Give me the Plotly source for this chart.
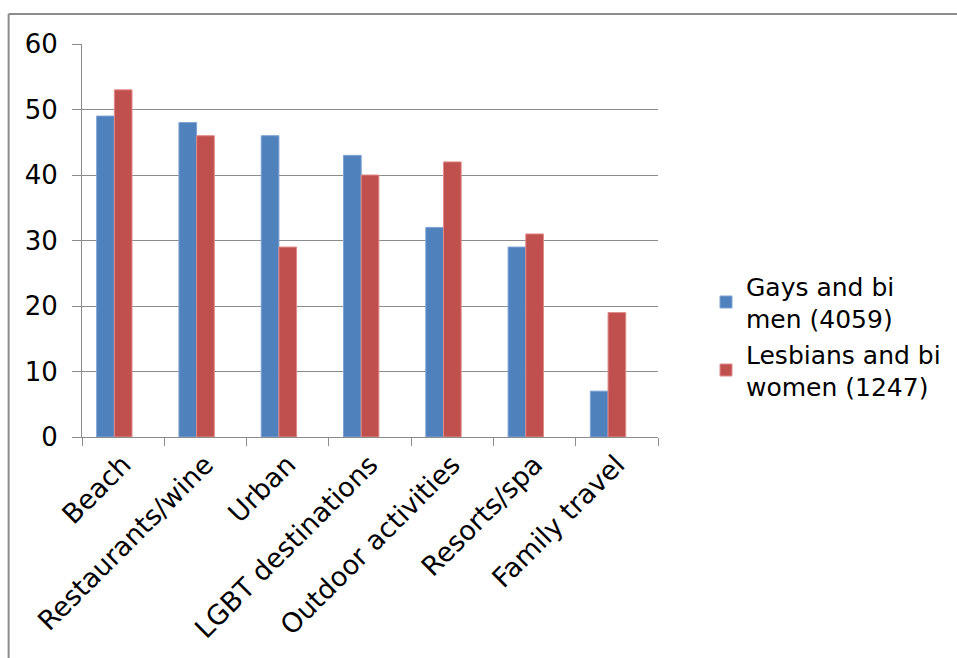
import plotly.graph_objects as go

categories = ["Beach", "Restaurants/wine", "Urban", "LGBT destinations",
              "Outdoor activities", "Resorts/spa", "Family travel"]
men_values = [49, 48, 46, 43, 32, 29, 7]
women_values = [53, 46, 29, 40, 42, 31, 19]
series_names = ["Gays and bi<br>men (4059)", "Lesbians and bi<br>women (1247)"]
y_ticks = [0, 10, 20, 30, 40, 50, 60]

W, H = 957, 658
L, R, T, B = 82, 659, 44, 437  # plot area in pixels

FONT = "DejaVu Sans"

# bar geometry in category units (pair sits slightly left of the category centre)
BAR_W = 0.215
OFFSETS = [-0.322, -0.107]

fig = go.Figure()
fig.add_trace(go.Bar(
    x=categories, y=men_values, name=series_names[0],
    width=BAR_W, offset=OFFSETS[0],
    marker=dict(color="#4F81BD", line=dict(color="#7EA3D3", width=1)),
))
fig.add_trace(go.Bar(
    x=categories, y=women_values, name=series_names[1],
    width=BAR_W, offset=OFFSETS[1],
    marker=dict(color="#C0504D", line=dict(color="#E08C8A", width=1)),
))

def px_x(p):
    return (p - L) / (R - L)

def px_y(p):
    return (B - p) / (B - T)

# outer frame (top and left edges)
frame = dict(color="#8C8C8C", width=2)
fig.add_shape(type="line", xref="paper", yref="paper",
              x0=px_x(8.5), x1=px_x(960), y0=px_y(14), y1=px_y(14), line=frame)
fig.add_shape(type="line", xref="paper", yref="paper",
              x0=px_x(8.5), x1=px_x(8.5), y0=px_y(14), y1=px_y(700), line=frame)

fig.update_layout(
    width=W, height=H,
    margin=dict(l=L, r=W - R, t=T, b=H - B, pad=0),
    paper_bgcolor="white", plot_bgcolor="white",
    barmode="overlay",
    font=dict(family=FONT, size=25, color="black"),
    showlegend=True,
    legend=dict(
        x=px_x(706), y=px_y(263), xanchor="left", yanchor="top",
        font=dict(family=FONT, size=25, color="black"),
        tracegroupgap=14, itemwidth=30, bgcolor="rgba(0,0,0,0)",
    ),
    xaxis=dict(
        type="category", tickangle=-45,
        showline=True, linecolor="#8C8C8C", linewidth=1,
        ticks="outside", ticklen=8, tickcolor="#8C8C8C",
        tickson="boundaries", showgrid=False,
        tickfont=dict(family=FONT, size=27, color="black"),
    ),
    yaxis=dict(
        range=[0, 60], tickvals=y_ticks,
        showline=True, linecolor="#8C8C8C", linewidth=1,
        ticks="outside", ticklen=9, tickcolor="#8C8C8C",
        showgrid=True, gridcolor="#8C8C8C", gridwidth=1,
        zeroline=False,
        ticklabelstandoff=9,
        tickfont=dict(family=FONT, size=26, color="black"),
    ),
)

fig.write_html("out.html")
